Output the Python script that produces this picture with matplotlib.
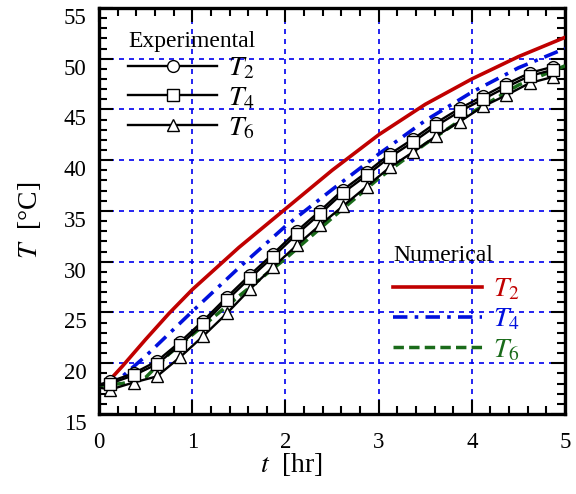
import matplotlib
matplotlib.use("Agg")
import matplotlib.pyplot as plt
import matplotlib.transforms as mtransforms
from matplotlib.lines import Line2D
from matplotlib.ticker import MultipleLocator

plt.rcParams["font.family"] = ["Liberation Serif", "DejaVu Serif"]
plt.rcParams["mathtext.fontset"] = "stix"

# Experimental data (first point at t=0 is line start, no marker)
t_exp = [0.0, 0.12, 0.37, 0.62, 0.87, 1.12, 1.37, 1.62, 1.87, 2.12, 2.37,
         2.62, 2.87, 3.12, 3.37, 3.62, 3.87, 4.12, 4.37, 4.62, 4.87]
T2_exp = [17.9, 18.2, 19.0, 20.2, 22.1, 24.2, 26.5, 28.7, 30.8, 33.0, 35.0,
          37.1, 38.8, 40.6, 42.1, 43.7, 45.1, 46.3, 47.5, 48.6, 49.2]
T4_exp = [17.8, 18.0, 18.8, 19.9, 21.8, 23.9, 26.2, 28.4, 30.5, 32.7, 34.7,
          36.8, 38.5, 40.3, 41.8, 43.4, 44.8, 46.0, 47.2, 48.3, 48.9]
T6_exp = [17.6, 17.4, 18.1, 18.7, 20.6, 22.7, 24.9, 27.3, 29.5, 31.6, 33.6,
          35.5, 37.4, 39.3, 40.8, 42.4, 43.8, 45.3, 46.4, 47.6, 48.2]

# Numerical data
t_num2 = [0.12, 0.25, 0.5, 0.75, 1.0, 1.5, 2.0, 2.5, 3.0, 3.5, 4.0, 4.5, 5.0]
T2_num = [18.4, 19.7, 22.35, 24.9, 27.25, 31.4, 35.2, 39.0, 42.5, 45.5, 48.0, 50.2, 52.1]
t_num4 = [0.05, 0.25, 0.5, 0.75, 1.0, 1.5, 2.0, 2.5, 3.0, 3.5, 4.0, 4.5, 5.0]
T4_num = [17.9, 18.7, 20.7, 22.9, 25.1, 29.4, 33.5, 37.1, 40.6, 43.9, 46.7, 49.1, 51.0]
t_num6 = [0.0, 0.25, 0.5, 0.75, 1.0, 1.5, 2.0, 2.5, 3.0, 3.5, 4.0, 4.5, 5.0]
T6_num = [17.8, 18.0, 18.6, 20.9, 22.8, 26.6, 30.3, 34.3, 38.2, 41.6, 44.7, 47.4, 49.3]

RED = "#c00000"
BLUE = "#0010dd"
GREEN = "#1a6b1a"

fig = plt.figure(figsize=(5.76, 4.94), dpi=100)
ax = fig.add_axes([0.172, 0.162, 0.809, 0.822])

ax.grid(True, which="major", color="#0000ee", linestyle=(0, (3, 3)), linewidth=1.2)
ax.set_axisbelow(True)

# numerical curves
ax.plot(t_num6, T6_num, color=GREEN, lw=2.5, dashes=(3, 1.5), zorder=3)
ax.plot(t_num4, T4_num, color=BLUE, lw=2.6, dashes=(4, 2, 1, 2), zorder=3)
ax.plot(t_num2, T2_num, color=RED, lw=2.6, zorder=3)

# experimental curves
mk = dict(color="black", lw=1.7, mfc="white", mec="black", mew=1.0, ms=8.5,
          markevery=slice(1, None), zorder=4)
ax.plot(t_exp, T6_exp, marker="^", **mk)
ax.plot(t_exp, T2_exp, marker="o", **mk)
ax.plot(t_exp, T4_exp, marker="s", **mk)

ax.set_xlim(0, 5)
ax.set_ylim(15, 55)
ax.xaxis.set_major_locator(MultipleLocator(1))
ax.xaxis.set_minor_locator(MultipleLocator(0.2))
ax.yaxis.set_major_locator(MultipleLocator(5))
ax.yaxis.set_minor_locator(MultipleLocator(1))
ax.tick_params(which="both", direction="in", top=True, right=True, width=1.5,
               labelsize=16.5)
ax.tick_params(which="major", length=10)
ax.tick_params(which="minor", length=5.5)
ax.tick_params(axis="x", pad=13)
ax.tick_params(axis="y", pad=9)
for s in ax.spines.values():
    s.set_linewidth(2.4)

# y tick labels sit a little below their ticks in the original
shift = mtransforms.ScaledTranslation(0, -8 / 100, fig.dpi_scale_trans)
for lab in ax.get_yticklabels():
    lab.set_transform(lab.get_transform() + shift)

ax.set_xlabel("$t$  [hr]", fontsize=20)
ax.set_ylabel("$T$  [°C]", fontsize=20)
ax.xaxis.set_label_coords(0.414, -0.092)
ax.yaxis.set_label_coords(-0.12, 0.478)

# legends
exp_handles = [
    Line2D([], [], color="black", lw=1.7, marker=m, mfc="white", mec="black", ms=8.5)
    for m in ["o", "s", "^"]
]
leg1 = ax.legend(exp_handles, ["$T_2$", "$T_4$", "$T_6$"], title="Experimental",
                 loc="upper left", bbox_to_anchor=(0.027, 0.985), frameon=False,
                 fontsize=20, title_fontsize=17, handlelength=3.2, handletextpad=0.4,
                 labelspacing=0.15, borderaxespad=0.2, alignment="left")
ax.add_artist(leg1)

num_handles = [
    Line2D([], [], color=RED, lw=2.6),
    Line2D([], [], color=BLUE, lw=2.6, dashes=(4, 2, 1, 2)),
    Line2D([], [], color=GREEN, lw=2.5, dashes=(3, 1.5)),
]
ax.text(0.631, 0.39, "Numerical", transform=ax.transAxes, fontsize=17,
        ha="left", va="center")
leg2 = ax.legend(num_handles, ["$T_2$", "$T_4$", "$T_6$"],
                 loc="upper left", bbox_to_anchor=(0.596, 0.379), frameon=False,
                 fontsize=20, handlelength=3.2, handletextpad=0.4,
                 labelspacing=0.17, borderaxespad=0.2, labelcolor="linecolor")

fig.savefig("out.png", dpi=100)
